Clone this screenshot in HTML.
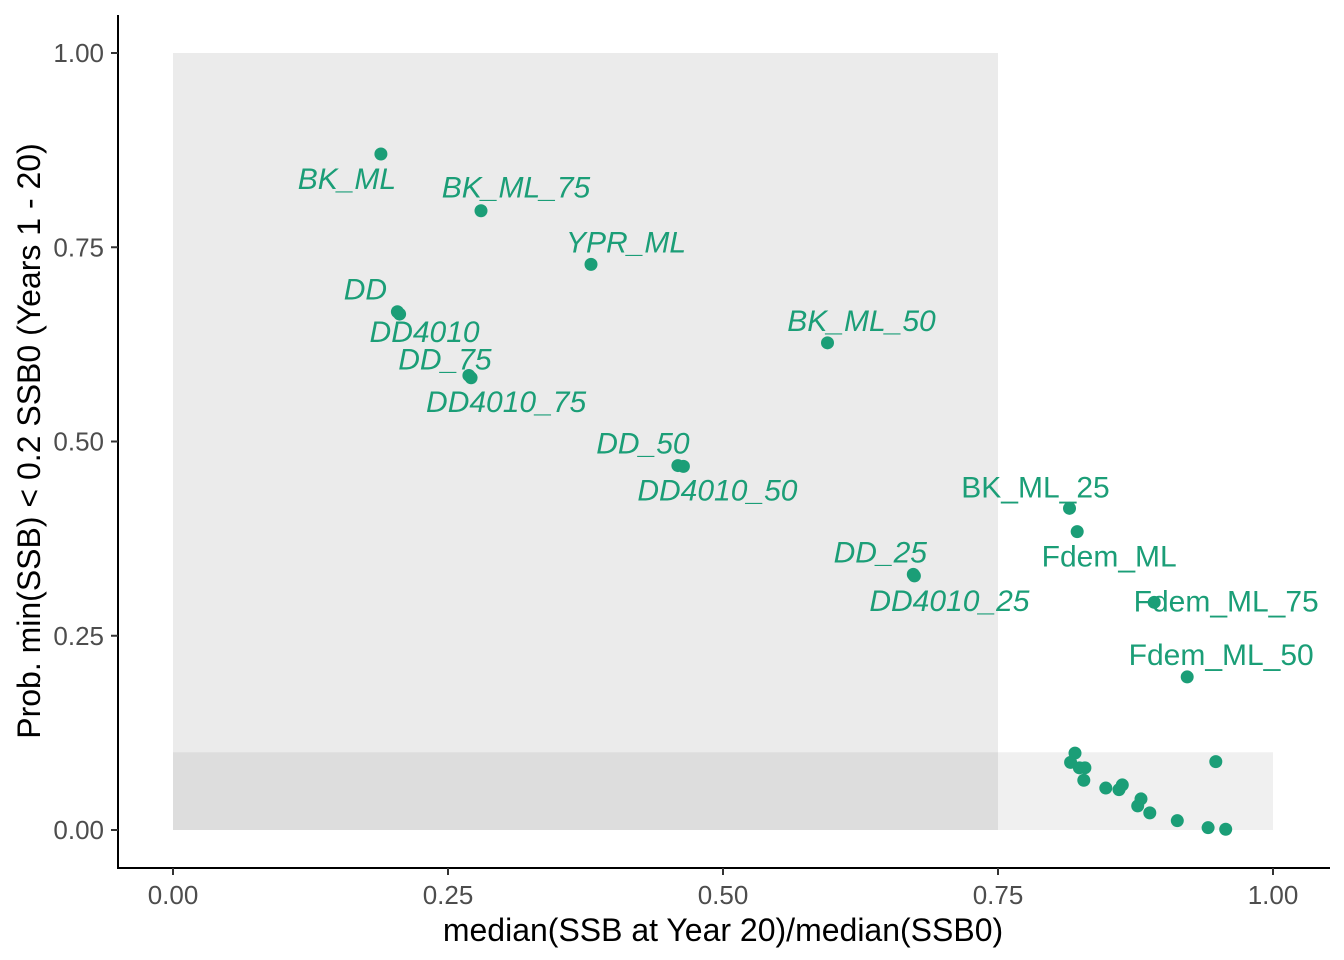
<!DOCTYPE html>
<html><head><meta charset="utf-8"><style>
html,body{margin:0;padding:0;background:#fff;}
svg{display:block;font-family:"Liberation Sans",sans-serif;}
</style></head><body>
<svg id="chart" width="1344" height="960" xmlns="http://www.w3.org/2000/svg"></svg>
<script>
const xTicks=[0,0.25,0.5,0.75,1];
const xTickLabels=["0.00","0.25","0.50","0.75","1.00"];
const yTicks=[0,0.25,0.5,0.75,1];
const yTickLabels=["0.00","0.25","0.50","0.75","1.00"];
const labelNames=["BK_ML","BK_ML_75","YPR_ML","DD","DD4010","DD_75","DD4010_75","BK_ML_50","DD_50","DD4010_50","BK_ML_25","Fdem_ML","DD_25","DD4010_25","Fdem_ML_75","Fdem_ML_50"];
const labelX=[0.189,0.280,0.380,0.204,0.206,0.269,0.271,0.595,0.459,0.464,0.815,0.822,0.673,0.674,0.892,0.922];
const labelY=[0.870,0.797,0.728,0.667,0.664,0.585,0.582,0.627,0.469,0.468,0.414,0.384,0.329,0.327,0.293,0.197];
const labelItalic=[1,1,1,1,1,1,1,1,1,1,0,0,1,1,0,0];
const clusterX=[0.820,0.816,0.824,0.829,0.828,0.848,0.863,0.860,0.880,0.877,0.888,0.913,0.941,0.957,0.948];
const clusterY=[0.099,0.087,0.080,0.080,0.064,0.054,0.058,0.052,0.040,0.031,0.022,0.012,0.003,0.001,0.088];
// label text centre offsets (px) — layout only
const lblDx=[-34,35,35,-32,25,-24,35,34,-35,34,-34,32,-33,35,72,34];
const lblDy=[35,-13,-12,-12,28,-6,34,-12,-12,34,-11,35,-12,35,9,-12];

const svg=document.getElementById('chart');
const NS='http://www.w3.org/2000/svg';
const X0=173,X1=1273,Y0=830,Y1=53;
const sx=v=>X0+v*(X1-X0);
const sy=v=>Y0-v*(Y0-Y1);
function mk(t,a,p){const e=document.createElementNS(NS,t);for(const k in a)e.setAttribute(k,a[k]);(p||svg).appendChild(e);return e;}

let r=mk('rect',{x:sx(0),y:sy(1),width:sx(0.75)-sx(0),height:sy(0)-sy(1),fill:'#ebebeb'});


r=mk('rect',{x:sx(0),y:sy(0.1),width:sx(1)-sx(0),height:sy(0)-sy(0.1),fill:'rgba(0,0,0,0.06)'});



let a=mk('line',{x1:118,y1:15,x2:118,y2:868,stroke:'#000','stroke-width':2});


a=mk('line',{x1:117,y1:868,x2:1330,y2:868,stroke:'#000','stroke-width':2});



xTicks.forEach((v,i)=>{
  const t=mk('line',{x1:sx(v),y1:868,x2:sx(v),y2:875,stroke:'#333','stroke-width':2});
  
  
  const l=mk('text',{x:sx(v),y:904,'text-anchor':'middle','font-size':26,fill:'#4d4d4d'});
  l.textContent=xTickLabels[i];
  
  
});
yTicks.forEach((v,i)=>{
  const t=mk('line',{x1:111,y1:sy(v),x2:118,y2:sy(v),stroke:'#333','stroke-width':2});
  
  
  const l=mk('text',{x:104,y:sy(v)+9,'text-anchor':'end','font-size':26,fill:'#4d4d4d'});
  l.textContent=yTickLabels[i];
  
  
});

let tt=mk('text',{x:723,y:941,'text-anchor':'middle','font-size':32,fill:'#000'});
tt.textContent='median(SSB at Year 20)/median(SSB0)';


tt=mk('text',{x:0,y:0,'text-anchor':'middle','font-size':32,fill:'#000',transform:'translate(40,441) rotate(-90)'});
tt.textContent='Prob. min(SSB) < 0.2 SSB0 (Years 1 - 20)';



const col='#1b9e77';
clusterX.forEach((v,i)=>{
  const c=mk('circle',{cx:sx(v),cy:sy(clusterY[i]),r:6.5,fill:col});
  
  
});
labelX.forEach((v,i)=>{
  const c=mk('circle',{cx:sx(v),cy:sy(labelY[i]),r:6.5,fill:col});
  
  
});
labelX.forEach((v,i)=>{
  const t=mk('text',{x:sx(v)+lblDx[i],y:sy(labelY[i])+lblDy[i],'text-anchor':'middle','font-size':30,fill:col,'font-style':labelItalic[i]?'italic':'normal'});
  t.textContent=labelNames[i];
  
  
});
</script>
</body></html>
